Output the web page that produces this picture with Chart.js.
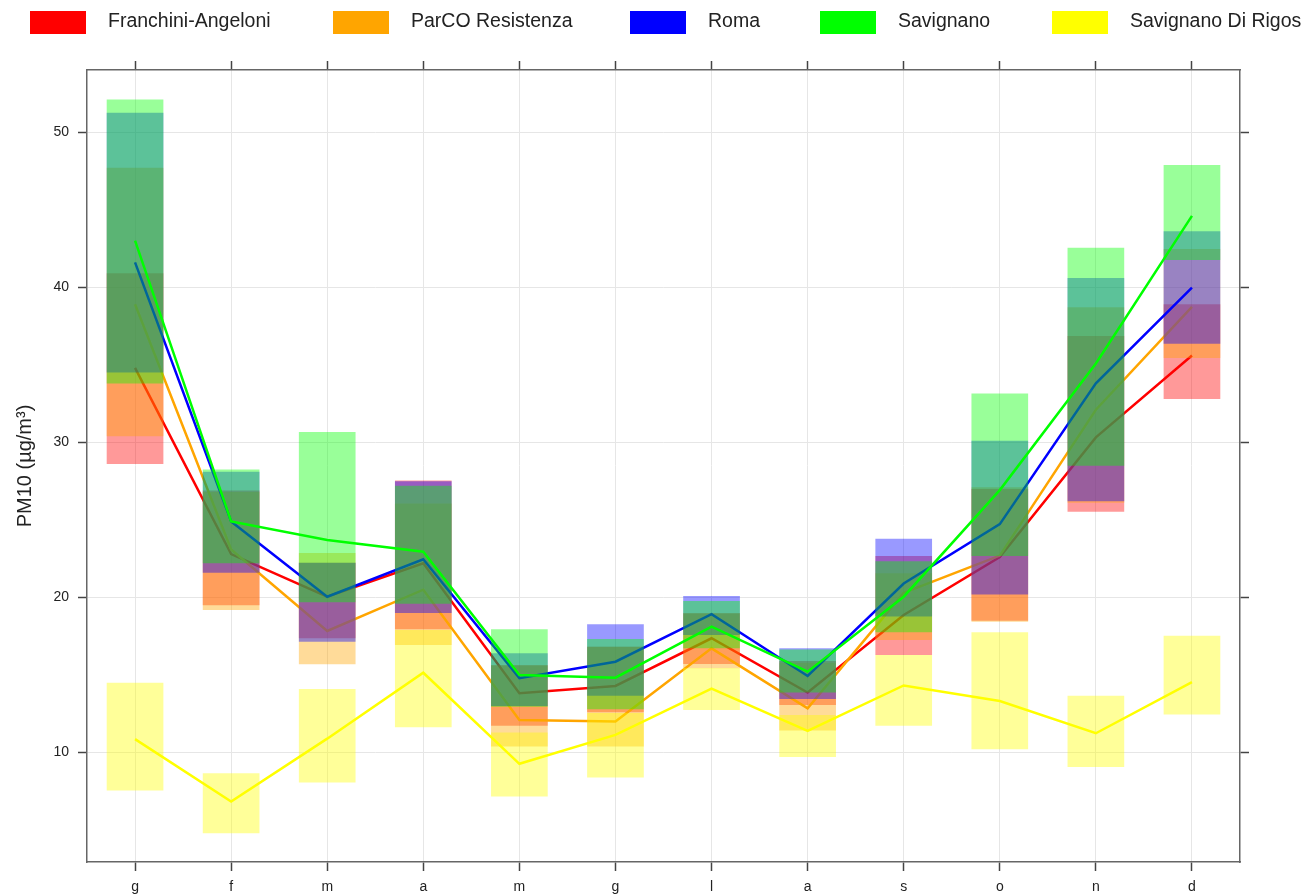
<!DOCTYPE html>
<html>
<head>
<meta charset="utf-8">
<title>PM10 monthly means</title>
<script src="https://cdn.jsdelivr.net/npm/chart.js@4.4.1/dist/chart.umd.min.js"></script>
<style>
  html, body { margin: 0; padding: 0; background: #ffffff; }
  #wrap { width: 1302px; height: 895px; }
</style>
</head>
<body>
<div id="wrap"><canvas id="chart" width="1302" height="895"></canvas></div>
<script>
// Month initials (Italian)
const months = ['g', 'f', 'm', 'a', 'm', 'g', 'l', 'a', 's', 'o', 'n', 'd'];
const yTickValues = [10, 20, 30, 40, 50];

// Franchini-Angeloni: monthly mean and confidence interval
const franchiniMean = [34.8, 22.8, 20.05, 22.2, 13.83, 14.3, 17.37, 13.87, 18.87, 22.6, 30.32, 35.6];
const franchiniLow  = [28.6, 19.5, 17.37, 17.95, 11.74, 12.6, 15.72, 13.07, 16.3, 18.5, 25.53, 32.8];
const franchiniHigh = [40.9, 26.9, 22.24, 27.54, 15.63, 16.83, 18.98, 15.9, 22.67, 27.0, 36.86, 38.9];

// ParCO Resistenza
const parcoMean = [38.9, 23.1, 17.84, 20.5, 12.1, 12.0, 16.72, 12.86, 20.3, 22.7, 32.1, 38.73];
const parcoLow  = [30.4, 19.2, 15.7, 16.94, 10.39, 10.39, 15.44, 11.42, 17.26, 18.44, 26.1, 35.43];
const parcoHigh = [47.7, 26.8, 22.87, 26.06, 15.63, 16.83, 18.98, 15.8, 21.56, 27.1, 38.7, 42.47];

// Roma
const romaMean = [41.6, 24.9, 20.05, 22.46, 14.8, 15.86, 18.92, 14.94, 20.9, 24.73, 33.8, 39.97];
const romaLow  = [34.5, 21.6, 17.15, 19.0, 13.0, 13.67, 17.58, 13.46, 18.77, 20.2, 26.2, 36.35];
const romaHigh = [51.25, 28.1, 22.24, 27.5, 16.4, 18.27, 20.1, 16.72, 23.79, 30.1, 40.6, 43.6];

// Savignano
const savignanoMean = [43.0, 24.9, 23.7, 22.95, 15.0, 14.83, 18.12, 15.22, 20.05, 26.92, 35.08, 44.6];
const savignanoLow  = [33.8, 22.2, 19.7, 19.6, 12.95, 12.8, 16.72, 13.87, 17.76, 22.67, 28.49, 41.76];
const savignanoHigh = [52.1, 28.25, 30.66, 27.2, 17.95, 17.33, 19.77, 16.65, 22.33, 33.15, 42.55, 47.87];

// Savignano Di Rigoso
const rigosoMean = [10.87, 6.85, 10.9, 15.15, 9.28, 11.14, 14.13, 11.4, 14.33, 13.33, 11.25, 14.54];
const rigosoLow  = [7.56, 4.81, 8.07, 11.64, 7.17, 8.39, 12.75, 9.71, 11.74, 10.22, 9.08, 12.45];
const rigosoHigh = [14.5, 8.67, 14.1, 17.9, 11.3, 12.55, 15.45, 12.43, 16.3, 17.76, 13.67, 17.53];

const sites = [
  { name: 'Franchini-Angeloni',  rgb: [255, 0, 0],   mean: franchiniMean, low: franchiniLow, high: franchiniHigh },
  { name: 'ParCO Resistenza',    rgb: [255, 165, 0], mean: parcoMean,     low: parcoLow,     high: parcoHigh },
  { name: 'Roma',                rgb: [0, 0, 255],   mean: romaMean,      low: romaLow,      high: romaHigh },
  { name: 'Savignano',           rgb: [0, 255, 0],   mean: savignanoMean, low: savignanoLow, high: savignanoHigh },
  { name: 'Savignano Di Rigoso', rgb: [255, 255, 0], mean: rigosoMean,    low: rigosoLow,    high: rigosoHigh }
];

const FONT = '"Liberation Sans", Arial, Helvetica, sans-serif';
const rgba = (c, a) => `rgba(${c[0]},${c[1]},${c[2]},${a})`;

// Each site: translucent interval box, then its mean line on top;
// later sites are painted over earlier ones (lower order = drawn later).
const datasets = [];
let order = sites.length * 2;
sites.forEach(s => {
  datasets.push({
    type: 'bar',
    label: s.name,
    data: s.low.map((lo, i) => [lo, s.high[i]]),
    backgroundColor: rgba(s.rgb, 0.4),
    borderWidth: 0,
    grouped: false,
    barPercentage: 0.59,
    categoryPercentage: 1,
    order: order--
  });
  datasets.push({
    type: 'line',
    label: s.name + ' mean',
    data: s.mean,
    borderColor: rgba(s.rgb, 1),
    borderWidth: 2.5,
    pointRadius: 0,
    tension: 0,
    fill: false,
    order: order--
  });
});

// Key across the top of the figure (one column per site)
const keyColumns = [30, 333, 630, 820, 1052];
const siteKey = {
  id: 'siteKey',
  afterDraw(chart) {
    const ctx = chart.ctx;
    ctx.save();
    ctx.font = '19.5px ' + FONT;
    ctx.textBaseline = 'middle';
    ctx.textAlign = 'left';
    sites.forEach((s, i) => {
      const x = keyColumns[i];
      ctx.fillStyle = rgba(s.rgb, 1);
      ctx.fillRect(x, 11, 56, 23);
      ctx.fillStyle = '#222';
      ctx.fillText(s.name, x + 78, 21.5);
    });
    ctx.restore();
  }
};

const FRAME = '#666666';
const TICK = '#444444';
const GRID = '#e6e6e6';
const yMin = 2.95, yMax = 54.0;
const setYTicks = scale => { scale.ticks = yTickValues.map(v => ({ value: v })); };

new Chart(document.getElementById('chart'), {
  type: 'bar',
  data: { labels: months, datasets },
  plugins: [siteKey],
  options: {
    responsive: false,
    animation: false,
    layout: { padding: { top: 61, right: 53, left: 0, bottom: 0 } },
    plugins: { legend: { display: false }, tooltip: { enabled: false } },
    scales: {
      x: {
        type: 'category',
        position: 'bottom',
        offset: true,
        grid: { color: GRID, lineWidth: 1, offset: false, drawTicks: true, tickLength: 9, tickColor: TICK, tickWidth: 1.5 },
        border: { display: true, color: FRAME, width: 1.5 },
        ticks: { color: '#222', font: { family: FONT, size: 14 }, padding: 8, maxRotation: 0, autoSkip: false },
        afterFit: s => { s.height = 33; }
      },
      x2: {
        type: 'category',
        position: 'top',
        labels: months,
        offset: true,
        grid: { drawOnChartArea: false, offset: false, drawTicks: true, tickLength: 9, tickColor: TICK, tickWidth: 1.5 },
        border: { display: true, color: FRAME, width: 1.5 },
        ticks: { display: false },
        afterFit: s => { s.height = 9; }
      },
      y: {
        type: 'linear',
        position: 'left',
        min: yMin,
        max: yMax,
        afterBuildTicks: setYTicks,
        grid: { color: GRID, lineWidth: 1, drawTicks: true, tickLength: 9, tickColor: TICK, tickWidth: 1.5 },
        border: { display: true, color: FRAME, width: 1.5 },
        ticks: { color: '#222', font: { family: FONT, size: 14 }, padding: 9 },
        title: {
          display: true,
          text: 'PM10 (\u00B5g/m\u00B3)',
          color: '#222',
          font: { family: FONT, size: 20 },
          padding: { top: 13, bottom: 0 }
        },
        afterFit: s => { s.width = 87; }
      },
      y2: {
        type: 'linear',
        position: 'right',
        min: yMin,
        max: yMax,
        afterBuildTicks: setYTicks,
        grid: { drawOnChartArea: false, drawTicks: true, tickLength: 9, tickColor: TICK, tickWidth: 1.5 },
        border: { display: true, color: FRAME, width: 1.5 },
        ticks: { display: false },
        afterFit: s => { s.width = 9; }
      }
    }
  }
});
</script>
</body>
</html>
